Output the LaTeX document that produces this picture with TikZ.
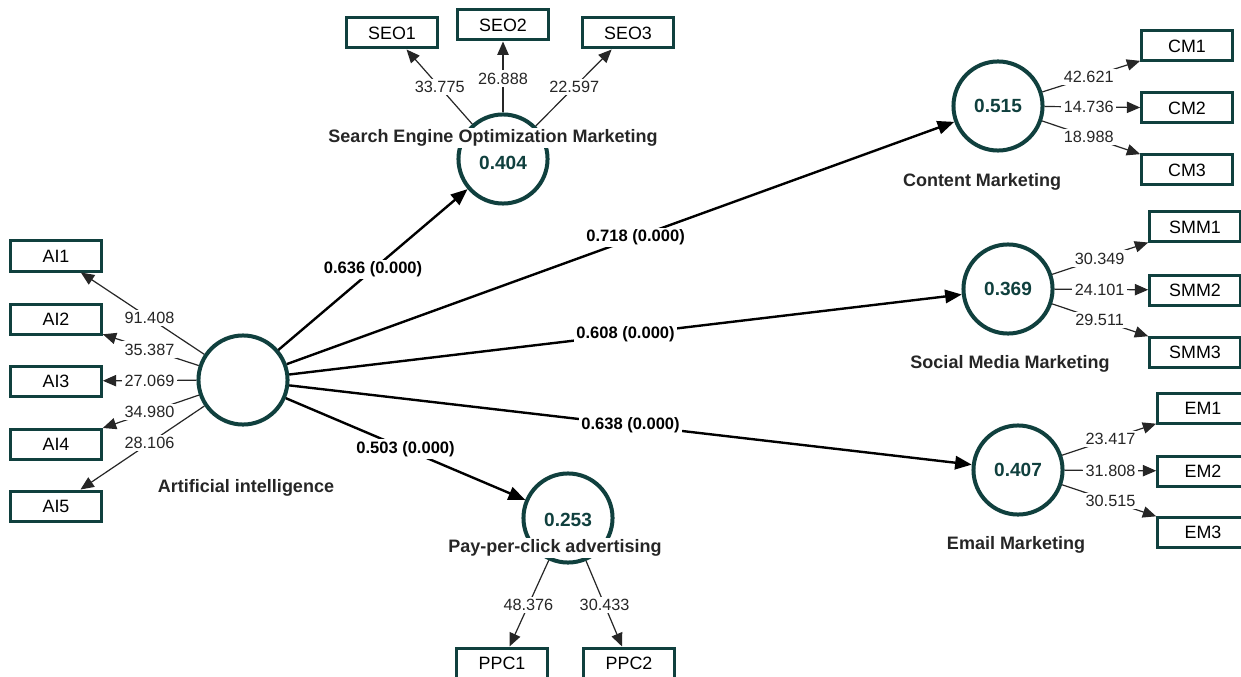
\documentclass[tikz,border=0pt]{standalone}
\usepackage{fontspec}
\setmainfont{Liberation Sans}
\usetikzlibrary{arrows.meta,calc}
\definecolor{plsteal}{RGB}{16,64,62}
\begin{document}
\begin{tikzpicture}[x=0.75pt,y=-0.75pt,
  lv/.style={circle,draw=plsteal,line width=3pt,minimum size=66.8pt,inner sep=0pt,fill=white,
    font=\bfseries\fontsize{14.3}{16}\selectfont,text=plsteal},
  mv/.style={rectangle,draw=plsteal,line width=2.25pt,minimum width=68pt,minimum height=22.5pt,
    inner sep=0pt,fill=white,font=\fontsize{13.4}{15}\selectfont},
  ind/.style={draw=black!85,line width=0.9pt,-{Triangle[length=10pt,width=8.5pt]}},
  pth/.style={draw=black,line width=1.8pt,-{Triangle[length=12.5pt,width=10pt]}},
  val/.style={fill=white,inner sep=1.8pt,font=\fontsize{12.2}{14}\selectfont,text=black!85},
  coef/.style={fill=white,inner sep=1.5pt,font=\bfseries\fontsize{12.4}{14}\selectfont},
  cname/.style={fill=white,inner sep=1pt,font=\bfseries\fontsize{13.5}{16}\selectfont,text=black!85},
]
\fill[white] (0,0) rectangle (1241,677);
\useasboundingbox (0,0) rectangle (1241,677);

% latent variables
\node[lv] (ai)  at (243,380) {};
\node[lv] (seo) at (503,159) {};
\node[lv] (cm)  at (998,106) {0.515};
\node[lv] (smm) at (1008,289) {0.369};
\node[lv] (em)  at (1018,470) {0.407};
\node[lv] (ppc) at (568,518) {};

% indicators
\node[mv] (ai1) at (56,256) {AI1};
\node[mv] (ai2) at (56,319) {AI2};
\node[mv] (ai3) at (56,381) {AI3};
\node[mv] (ai4) at (56,444) {AI4};
\node[mv] (ai5) at (56,506) {AI5};
\node[mv] (seo1) at (392,33) {SEO1};
\node[mv] (seo2) at (503,25) {SEO2};
\node[mv] (seo3) at (628,33) {SEO3};
\node[mv] (cm1) at (1187,46) {CM1};
\node[mv] (cm2) at (1187,108) {CM2};
\node[mv] (cm3) at (1187,170) {CM3};
\node[mv] (smm1) at (1195,227) {SMM1};
\node[mv] (smm2) at (1195,290) {SMM2};
\node[mv] (smm3) at (1195,352) {SMM3};
\node[mv] (em1) at (1203,408) {EM1};
\node[mv] (em2) at (1203,471) {EM2};
\node[mv] (em3) at (1203,532) {EM3};
\node[mv] (ppc1) at (502,663) {PPC1};
\node[mv] (ppc2) at (629,663) {PPC2};

% outer loadings
\draw[ind] (ai) -- (ai1) node[val] at ($(ai)!0.5!(ai1)$) {91.408};
\draw[ind] (ai) -- (ai2) node[val] at ($(ai)!0.5!(ai2)$) {35.387};
\draw[ind] (ai) -- (ai3) node[val] at ($(ai)!0.5!(ai3)$) {27.069};
\draw[ind] (ai) -- (ai4) node[val] at ($(ai)!0.5!(ai4)$) {34.980};
\draw[ind] (ai) -- (ai5) node[val] at ($(ai)!0.5!(ai5)$) {28.106};
\draw[ind] (seo) -- (seo1) node[val] at ($(seo)!0.57!(seo1)$) {33.775};
\draw[ind] (seo) -- (seo2) node[val] at ($(seo)!0.6!(seo2)$) {26.888};
\draw[ind] (seo) -- (seo3) node[val] at ($(seo)!0.57!(seo3)$) {22.597};
\draw[ind] (cm) -- (cm1) node[val] at ($(cm)!0.48!(cm1)$) {42.621};
\draw[ind] (cm) -- (cm2) node[val] at ($(cm)!0.48!(cm2)$) {14.736};
\draw[ind] (cm) -- (cm3) node[val] at ($(cm)!0.48!(cm3)$) {18.988};
\draw[ind] (smm) -- (smm1) node[val] at ($(smm)!0.49!(smm1)$) {30.349};
\draw[ind] (smm) -- (smm2) node[val] at ($(smm)!0.49!(smm2)$) {24.101};
\draw[ind] (smm) -- (smm3) node[val] at ($(smm)!0.49!(smm3)$) {29.511};
\draw[ind] (em) -- (em1) node[val] at ($(em)!0.5!(em1)$) {23.417};
\draw[ind] (em) -- (em2) node[val] at ($(em)!0.5!(em2)$) {31.808};
\draw[ind] (em) -- (em3) node[val] at ($(em)!0.5!(em3)$) {30.515};
\draw[ind] (ppc) -- (ppc1) node[val] at ($(ppc)!0.6!(ppc1)$) {48.376};
\draw[ind] (ppc) -- (ppc2) node[val] at ($(ppc)!0.6!(ppc2)$) {30.433};

% structural paths
\draw[pth] (ai) -- (seo) node[coef] at ($(ai)!0.5!(seo)$) {0.636 (0.000)};
\draw[pth] (ai) -- (cm)  node[coef] at ($(ai)!0.52!(cm)$) {0.718 (0.000)};
\draw[pth] (ai) -- (smm) node[coef] at ($(ai)!0.5!(smm)$) {0.608 (0.000)};
\draw[pth] (ai) -- (em)  node[coef] at ($(ai)!0.5!(em)$) {0.638 (0.000)};
\draw[pth] (ai) -- (ppc) node[coef] at ($(ai)!0.5!(ppc)$) {0.503 (0.000)};

% construct names and values
\node[cname] (seoname) at (493,138) {Search Engine Optimization Marketing};
\node[font=\bfseries\fontsize{14.3}{16}\selectfont,text=plsteal] (seoval) at (503,163) {0.404};
\node[cname] (ainame) at (246,488) {Artificial intelligence};
\node[cname] (cmname) at (982,182) {Content Marketing};
\node[cname] (smmname) at (1010,364) {Social Media Marketing};
\node[cname] (emname) at (1016,545) {Email Marketing};
\node[font=\bfseries\fontsize{14.3}{16}\selectfont,text=plsteal] (ppcval) at (568,520) {0.253};
\node[cname] (ppcname) at (555,548) {Pay-per-click advertising};
\end{tikzpicture}
\end{document}
